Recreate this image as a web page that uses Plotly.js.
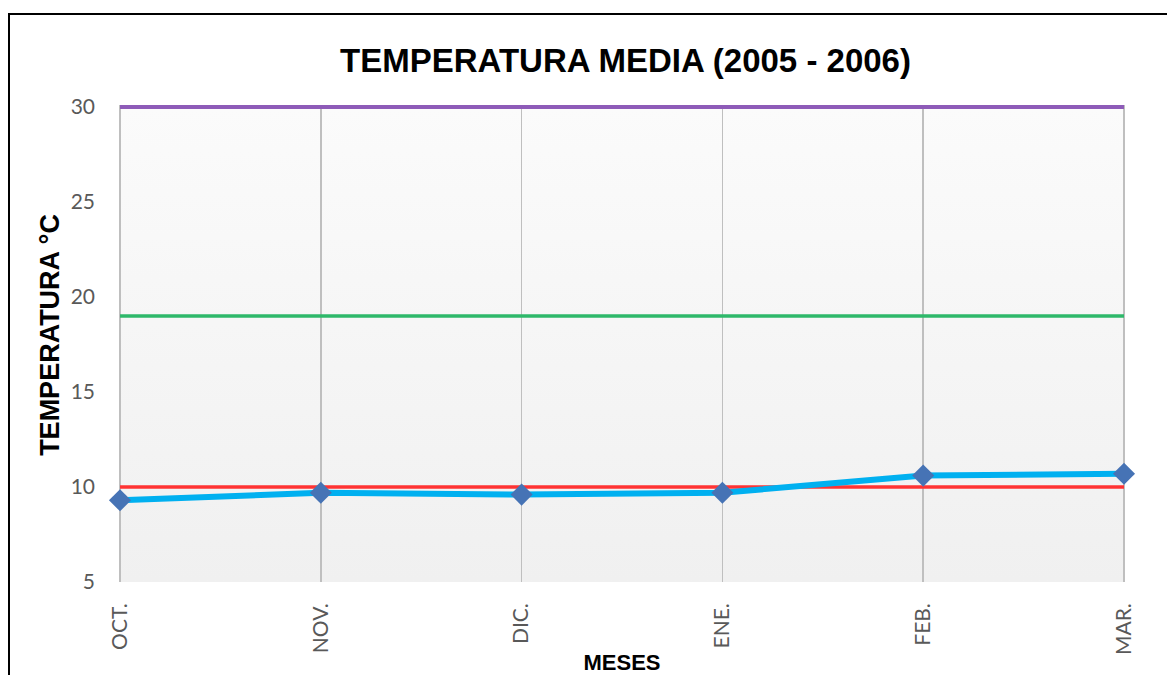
<!DOCTYPE html>
<html>
<head>
<meta charset="utf-8">
<script src="https://cdn.plot.ly/plotly-3.0.1.min.js"></script>
<style>
  html, body { margin: 0; padding: 0; background: #ffffff; overflow: hidden; }
  #frame { position: absolute; left: 8px; top: 13px; width: 1200px; height: 700px; border: 2px solid #000; box-sizing: border-box; }
  #bg { position: absolute; left: 120px; top: 107px; width: 1004px; height: 475px;
        background: linear-gradient(to bottom, #fbfbfb 0%, #f0f0f0 100%); }
  #chart { position: absolute; left: 0; top: 0; width: 1167px; height: 675px; }
</style>
</head>
<body>
<div id="frame"></div>
<div id="bg"></div>
<div id="chart"></div>
<script>
const months = ["OCT.", "NOV.", "DIC.", "ENE.", "FEB.", "MAR."];
const tempMedia = [9.3, 9.7, 9.6, 9.7, 10.6, 10.7];
const limSuperior = [30, 30, 30, 30, 30, 30];
const limOptimo = [19, 19, 19, 19, 19, 19];
const limInferior = [10, 10, 10, 10, 10, 10];

const traces = [
  { x: months, y: limSuperior, mode: "lines", line: { color: "#8e5bb8", width: 4 }, cliponaxis: false, hoverinfo: "none" },
  { x: months, y: limOptimo, mode: "lines", line: { color: "#2eb86a", width: 3.5 }, cliponaxis: false, hoverinfo: "none" },
  { x: months, y: limInferior, mode: "lines", line: { color: "#ff3333", width: 3.5 }, cliponaxis: false, hoverinfo: "none" },
  { x: months, y: tempMedia, mode: "lines+markers",
    line: { color: "#00b0f0", width: 6 },
    marker: { symbol: "diamond", size: 17, color: "#4673b5", line: { width: 0 } },
    cliponaxis: false }
];

const layout = {
  width: 1167, height: 675,
  margin: { l: 118, r: 41, t: 105, b: 93 },
  paper_bgcolor: "rgba(0,0,0,0)",
  plot_bgcolor: "rgba(0,0,0,0)",
  showlegend: false,
  title: { text: "<b>TEMPERATURA MEDIA (2005 - 2006)</b>", font: { family: "Liberation Sans, Arial", size: 33, color: "#000" },
           x: 0.536, xanchor: "center", y: 0.911, yanchor: "middle" },
  xaxis: {
    type: "category", range: [-0.01, 5.01],
    showgrid: true, gridcolor: "#bfbfbf", gridwidth: 1.5,
    zeroline: false, showline: false, ticks: "",
    tickangle: -90, ticklabelstandoff: 16,
    tickfont: { family: "Lato, Open Sans", size: 21, color: "#595959" },
    title: { text: "<b>MESES</b>", font: { family: "Liberation Sans, Arial", size: 22, color: "#000" }, standoff: 8 }
  },
  yaxis: {
    range: [5, 30.1], dtick: 5, tick0: 5,
    showgrid: false, zeroline: false, showline: false, ticks: "",
    ticklabelstandoff: 22,
    tickfont: { family: "Lato, Open Sans", size: 21, color: "#595959" }
  },
  annotations: [{
    text: "<b>TEMPERATURA °C</b>", textangle: -90, showarrow: false,
    xref: "paper", yref: "paper", x: -0.0675, y: 0.518, xanchor: "center", yanchor: "middle",
    font: { family: "Liberation Sans, Arial", size: 27, color: "#000" }
  }]
};

Plotly.newPlot("chart", traces, layout, { staticPlot: true, displayModeBar: false });
</script>
</body>
</html>
